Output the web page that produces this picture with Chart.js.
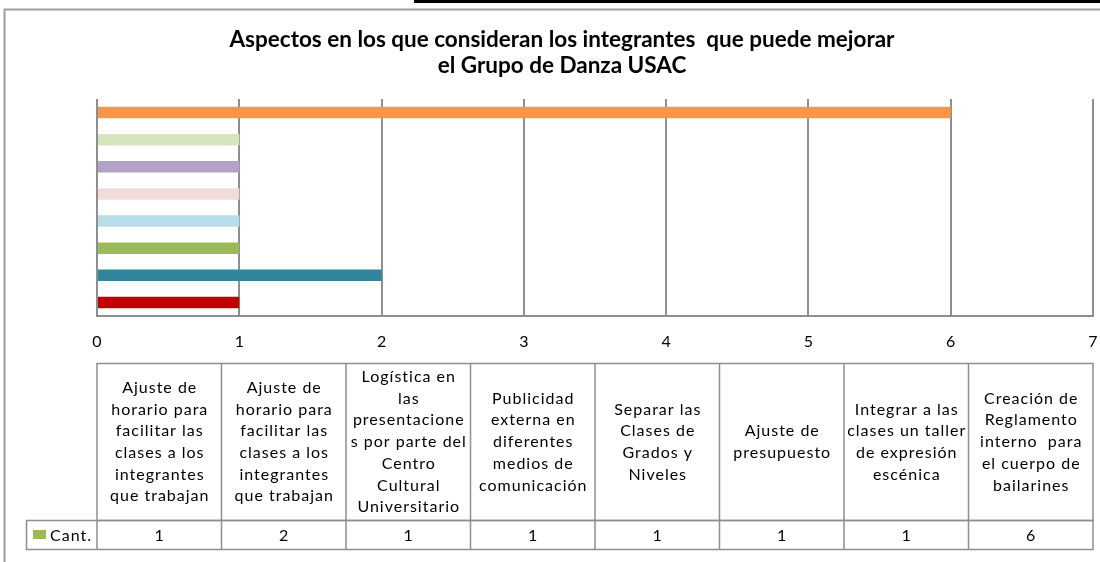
<!DOCTYPE html>
<html><head><meta charset="utf-8">
<script src="https://cdn.jsdelivr.net/npm/chart.js@4"></script>
<style>html,body{margin:0;padding:0;background:#fff}#wrap{width:1100px;height:562px}</style>
</head><body><div id="wrap"><canvas id="c" width="1100" height="562"></canvas></div>
<script>
const titleLines = ['Aspectos en los que consideran los integrantes  que puede mejorar', 'el Grupo de Danza USAC'];
const categories = [
  ['Ajuste de', 'horario para', 'facilitar las', 'clases a los', 'integrantes', 'que trabajan'],
  ['Ajuste de', 'horario para', 'facilitar las', 'clases a los', 'integrantes', 'que trabajan'],
  ['Logística en', 'las', 'presentacione', 's por parte del', 'Centro', 'Cultural', 'Universitario'],
  ['Publicidad', 'externa en', 'diferentes', 'medios de', 'comunicación'],
  ['Separar las', 'Clases de', 'Grados y', 'Niveles'],
  ['Ajuste de', 'presupuesto'],
  ['Integrar a las', 'clases un taller', 'de expresión', 'escénica'],
  ['Creación de', 'Reglamento', 'interno  para', 'el cuerpo de', 'bailarines']
];
const values = [1, 2, 1, 1, 1, 1, 1, 6];
const barColors = ['#C00000', '#31859C', '#9BBB59', '#B7DEE8', '#F2DCDB', '#B2A2C7', '#D7E4BD', '#F79646'];
const seriesName = 'Cant.';
const legendColor = '#9BBB59';
const xMin = 0, xMax = 7, xStep = 1;

const FONT = 'Lato, "Open Sans", sans-serif';

function centeredText(ctx, t, x, y) {
  const w = ctx.measureText(t).width;
  ctx.textAlign = 'left';
  ctx.fillText(t, x - w / 2 + 0.5, y);
}

const decor = {
  id: 'decor',
  afterDraw(chart) {
    const ctx = chart.ctx;
    const ca = chart.chartArea;
    ctx.save();
    ctx.strokeStyle = '#9d9d9d';
    ctx.lineWidth = 2;
    ctx.beginPath();
    ctx.moveTo(4.5, 562); ctx.lineTo(4.5, 9.5); ctx.lineTo(1100, 9.5);
    ctx.stroke();
    ctx.fillStyle = '#000';
    ctx.fillRect(414, 0, 686, 3);
    // title
    ctx.fillStyle = '#000';
    ctx.font = 'bold 22.5px ' + FONT;
    ctx.textAlign = 'center';
    ctx.textBaseline = 'middle';
    ctx.fillText(titleLines[0], 562, 40);
    ctx.fillText(titleLines[1], 562, 66);
    // data table
    const left = ca.left, right = ca.right;
    const n = categories.length;
    const colW = (right - left) / n;
    const tTop = 363.5, tMid = 520.5, tBot = 549.5, legLeft = 26.5;
    ctx.strokeStyle = '#8f8f8f';
    ctx.lineWidth = 1.5;
    ctx.strokeRect(left, tTop, right - left, tMid - tTop);
    ctx.strokeRect(legLeft, tMid, right - legLeft, tBot - tMid);
    ctx.beginPath();
    for (let i = 0; i < n; i++) {
      const x = left + i * colW;
      ctx.moveTo(x, i === 0 ? tMid : tTop); ctx.lineTo(x, tBot);
    }
    ctx.stroke();
    ctx.font = '16px ' + FONT;
    ctx.letterSpacing = '1px';
    ctx.fillStyle = '#000';
    const lh = 21.7;
    const cy = (tTop + tMid) / 2;
    categories.forEach((lines, i) => {
      const cx = left + (i + 0.5) * colW;
      const y0 = cy - (lines.length - 1) * lh / 2;
      lines.forEach((t, j) => centeredText(ctx, t, cx, y0 + j * lh));
      centeredText(ctx, String(values[i]), cx, (tMid + tBot) / 2 + 1);
    });
    ctx.fillStyle = legendColor;
    ctx.fillRect(33, 530, 13, 9);
    ctx.fillStyle = '#000';
    ctx.textAlign = 'left';
    ctx.fillText(seriesName, 50, (tMid + tBot) / 2 + 1);
    ctx.restore();
  }
};

new Chart(document.getElementById('c'), {
  type: 'bar',
  data: {
    labels: categories.map(l => l.join(' ')),
    datasets: [{
      label: seriesName,
      data: values,
      backgroundColor: barColors,
      borderWidth: 0,
      barPercentage: 0.85,
      categoryPercentage: 0.5
    }]
  },
  options: {
    responsive: false,
    animation: false,
    devicePixelRatio: 1,
    indexAxis: 'y',
    layout: { padding: { left: 97, right: 7, top: 99, bottom: 0 } },
    plugins: { legend: { display: false }, title: { display: false }, tooltip: { enabled: false } },
    scales: {
      x: {
        min: xMin, max: xMax,
        ticks: { stepSize: xStep, color: '#000', font: { family: FONT, size: 16 }, padding: 16 },
        grid: { color: '#8f8f8f', lineWidth: 2, drawTicks: false },
        border: { color: '#8f8f8f', width: 2 },
        afterFit(s) { s.height = 246; s.paddingLeft = 0; s.paddingRight = 0; }
      },
      y: {
        reverse: true,
        ticks: { display: false },
        grid: { display: false },
        border: { display: false },
        afterFit(s) { s.width = 0; s.paddingTop = 0; s.paddingBottom = 0; }
      }
    }
  },
  plugins: [decor]
});
</script>
</body></html>
